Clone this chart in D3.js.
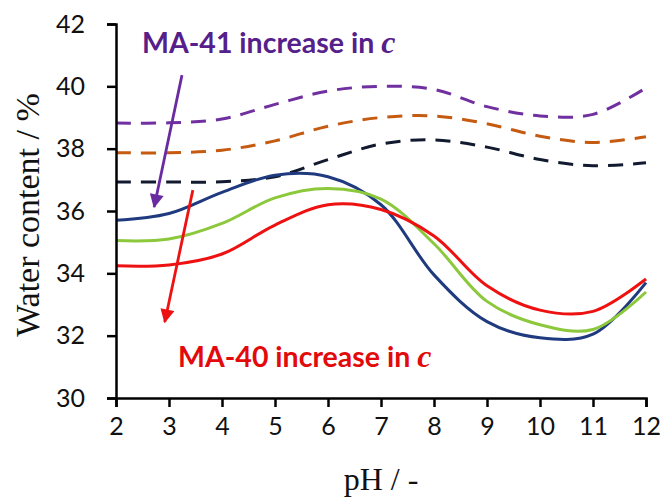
<!DOCTYPE html>
<html>
<head>
<meta charset="utf-8">
<script src="https://cdn.jsdelivr.net/npm/d3@7"></script>
<style>
  body { margin: 0; background: #fff; }
  svg { display: block; }
</style>
</head>
<body>
<div id="chart"></div>
<script>
// pH points and water content (%)
var pH = [2, 3, 4, 5, 6, 7, 8, 9, 10, 11, 12];
var ma41High = [38.82, 38.83, 38.95, 39.42, 39.85, 40.0, 39.9, 39.35, 39.05, 39.1, 39.95];
var ma41Mid  = [37.87, 37.87, 37.95, 38.25, 38.72, 39.0, 39.05, 38.8, 38.4, 38.2, 38.38];
var ma41Low  = [36.93, 36.93, 36.94, 37.1, 37.65, 38.15, 38.28, 38.05, 37.65, 37.45, 37.55];
var ma40Blue  = [35.7, 35.92, 36.6, 37.15, 37.1, 36.2, 33.95, 32.45, 31.93, 32.05, 33.7];
var ma40Green = [35.05, 35.1, 35.6, 36.42, 36.72, 36.38, 34.95, 33.1, 32.35, 32.2, 33.4];
var ma40Red   = [34.24, 34.27, 34.62, 35.55, 36.2, 36.05, 35.2, 33.6, 32.82, 32.78, 33.82];
var xTicks = [2, 3, 4, 5, 6, 7, 8, 9, 10, 11, 12];
var yTicks = [30, 32, 34, 36, 38, 40, 42];

var W = 664, H = 498;
var svg = d3.select('#chart').append('svg').attr('width', W).attr('height', H);

var x = d3.scaleLinear().domain([2, 12]).range([116, 646]);
var y = d3.scaleLinear().domain([30, 42]).range([398, 24]);

var series = [
  { vals: ma41High, color: '#7030a0', dash: '15,10' },
  { vals: ma41Mid, color: '#c55a11', dash: '15,10' },
  { vals: ma41Low, color: '#111a2e', dash: '15,10' },
  { vals: ma40Blue, color: '#1f3a7f', dash: null },
  { vals: ma40Green, color: '#8cc83c', dash: null },
  { vals: ma40Red, color: '#ee1111', dash: null }
];

var line = d3.line()
  .x(function(d) { return x(d[0]); })
  .y(function(d) { return y(d[1]); })
  .curve(d3.curveCatmullRom.alpha(0.5));

series.forEach(function(s) {
  svg.append('path')
    .datum(pH.map(function(p, i) { return [p, s.vals[i]]; }))
    .attr('d', line)
    .attr('fill', 'none')
    .attr('stroke', s.color)
    .attr('stroke-width', 3)
    .attr('stroke-dasharray', s.dash);
});

// axes
var xAxis = svg.append('g').attr('transform', 'translate(0,' + y(30) + ')')
  .call(d3.axisBottom(x).tickValues(xTicks).tickSize(9).tickPadding(10).tickFormat(d3.format('d')));
var yAxis = svg.append('g').attr('transform', 'translate(' + x(2) + ',0)')
  .call(d3.axisLeft(y).tickValues(yTicks).tickSize(9).tickPadding(22).tickFormat(d3.format('d')));

[xAxis, yAxis].forEach(function(g) {
  g.select('.domain').attr('stroke', '#000').attr('stroke-width', 2.5);
  g.selectAll('.tick line').attr('stroke', '#000').attr('stroke-width', 2.5);
  g.selectAll('.tick text').attr('fill', '#111')
    .style('font-family', 'Lato, "Open Sans", sans-serif').style('font-size', '25px');
});

svg.append('text')
  .attr('x', (x(2) + x(12)) / 2).attr('y', 490)
  .attr('text-anchor', 'middle')
  .style('font-family', '"Liberation Serif", "DejaVu Serif", serif').style('font-size', '32px')
  .attr('fill', '#111')
  .text('pH / -');

svg.append('text')
  .attr('transform', 'translate(39,215) rotate(-90)')
  .attr('text-anchor', 'middle')
  .style('font-family', '"Liberation Serif", "DejaVu Serif", serif').style('font-size', '34px')
  .attr('fill', '#111')
  .text('Water content / %');

// annotations
var defs = svg.append('defs');
function marker(id, color) {
  defs.append('marker').attr('id', id)
    .attr('viewBox', '0 0 10 10').attr('refX', 9).attr('refY', 5)
    .attr('markerWidth', 5.5).attr('markerHeight', 5).attr('orient', 'auto')
    .attr('markerUnits', 'strokeWidth')
    .append('path').attr('d', 'M0,0 L10,5 L0,10 Z').attr('fill', color);
}
marker('arrPurple', '#6a2ba0');
marker('arrRed', '#ee1111');

var arrows = [
  { from: [3.245, 40.36], to: [2.72, 36.13], color: '#6a2ba0', m: 'arrPurple' },
  { from: [3.45, 36.67], to: [2.92, 32.44], color: '#ee1111', m: 'arrRed' }
];
arrows.forEach(function(a) {
  svg.append('line')
    .attr('x1', x(a.from[0])).attr('y1', y(a.from[1]))
    .attr('x2', x(a.to[0])).attr('y2', y(a.to[1]))
    .attr('stroke', a.color).attr('stroke-width', 2.8)
    .attr('marker-end', 'url(#' + a.m + ')');
});

function label(xp, yp, txt, color) {
  var t = svg.append('text').attr('x', xp).attr('y', yp)
    .attr('fill', color)
    .style('font-family', 'Lato, "Open Sans", sans-serif').style('font-size', '28.5px')
    .style('font-weight', 'bold');
  t.append('tspan').text(txt + ' ');
  t.append('tspan').text('c')
    .style('font-family', '"Liberation Serif", serif').style('font-style', 'italic')
    .style('font-size', '32px');
}
label(142, 53, 'MA-41 increase in', '#55208a');
label(178, 367, 'MA-40 increase in', '#e20a0a');
</script>
</body>
</html>
